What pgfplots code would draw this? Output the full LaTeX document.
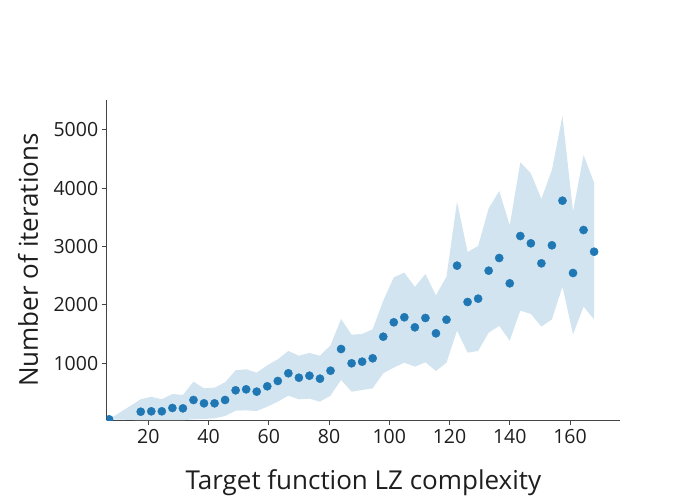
\documentclass[border=0pt]{standalone}
\usepackage{pgfplots}
\pgfplotsset{compat=1.18}
\usepackage{pgfplotstable}
\usepgfplotslibrary{fillbetween}
\usepackage{fontspec}
\setmainfont{Open Sans}
\definecolor{mblue}{RGB}{31,119,180}
\definecolor{band}{RGB}{210,228,240}
\definecolor{txt}{RGB}{30,30,30}
\definecolor{axline}{RGB}{68,68,68}

% x = LZ complexity, y = mean iterations, lo/hi = band edges
\pgfplotstableread{
x     lo    hi    y
7     40    40    40
17.5  25    383   170
21    25    427   177
24.5  25    383   177
28    25    474   234
31.5  25    457   228
35    40    686   371
38.5  45    571   314
42    57    583   314
45.5  97    674   371
49    187   880   537
52.5  194   897   554
56    182   840   514
59.5  256   966   606
63    343   1069  697
66.5  446   1211  829
70    383   1131  753
73.5  394   1177  787
77    343   1131  736
80.5  446   1309  873
84    714   1760  1245
87.5  514   1490  1000
91    543   1503  1028
94.5  571   1583  1086
98    829   2074  1456
101.5 926   2474  1703
105   1011  2554  1789
108.5 943   2309  1617
112   1017  2531  1777
115.5 869   2166  1514
119   1011  2486  1748
122.5 1560  3771  2674
126   1183  2909  2051
129.5 1211  3011  2108
133   1526  3657  2588
136.5 1640  3954  2805
140   1389  3366  2371
143.5 1903  4446  3182
147   1846  4257  3057
150.5 1629  3817  2714
154   1754  4314  3023
157.5 2314  5240  3788
161   1497  3600  2548
164.5 1971  4571  3285
168   1754  4097  2913
}\lzdata

\begin{document}
\begin{tikzpicture}
\begin{axis}[
    scale only axis,
    width=513.3pt, height=320pt,
    xmin=6.2, xmax=176.6,
    ymin=28, ymax=5514,
    clip marker paths=true,
    axis x line*=bottom,
    axis y line*=left,
    axis line style={axline, line width=1pt},
    xtick={20,40,...,160},
    ytick={1000,2000,3000,4000,5000},
    tick align=outside,
    major tick length=5pt,
    tick style={axline, line width=1pt},
    /pgf/number format/assume math mode=true,
    /pgf/number format/set thousands separator={},
    ticklabel style={font=\fontsize{19.5}{19.5}\selectfont, text=txt},
    xticklabel style={anchor=center, yshift=-12pt},
    yticklabel style={anchor=east},
    label style={font=\fontsize{26}{26}\selectfont, text=txt},
    xlabel={Target function LZ complexity},
    ylabel={Number of iterations},
    xlabel style={at={(axis description cs:0.5,0)}, anchor=center, yshift=-63pt},
    ylabel style={at={(axis description cs:0,0.5)}, anchor=center, yshift=78.7pt},
]
\addplot[draw=none, name path=hi, forget plot] table[x=x, y=hi] {\lzdata};
\addplot[draw=none, name path=lo, forget plot] table[x=x, y=lo] {\lzdata};
\addplot[band, draw=none] fill between[of=hi and lo];
\addplot[only marks, mark=*, mark size=4.1pt, mblue, mark options={draw=mblue, fill=mblue}]
    table[x=x, y=y] {\lzdata};
\end{axis}
\path (-106.7pt,-80pt) rectangle (593.3pt,420pt);
\end{tikzpicture}
\end{document}
